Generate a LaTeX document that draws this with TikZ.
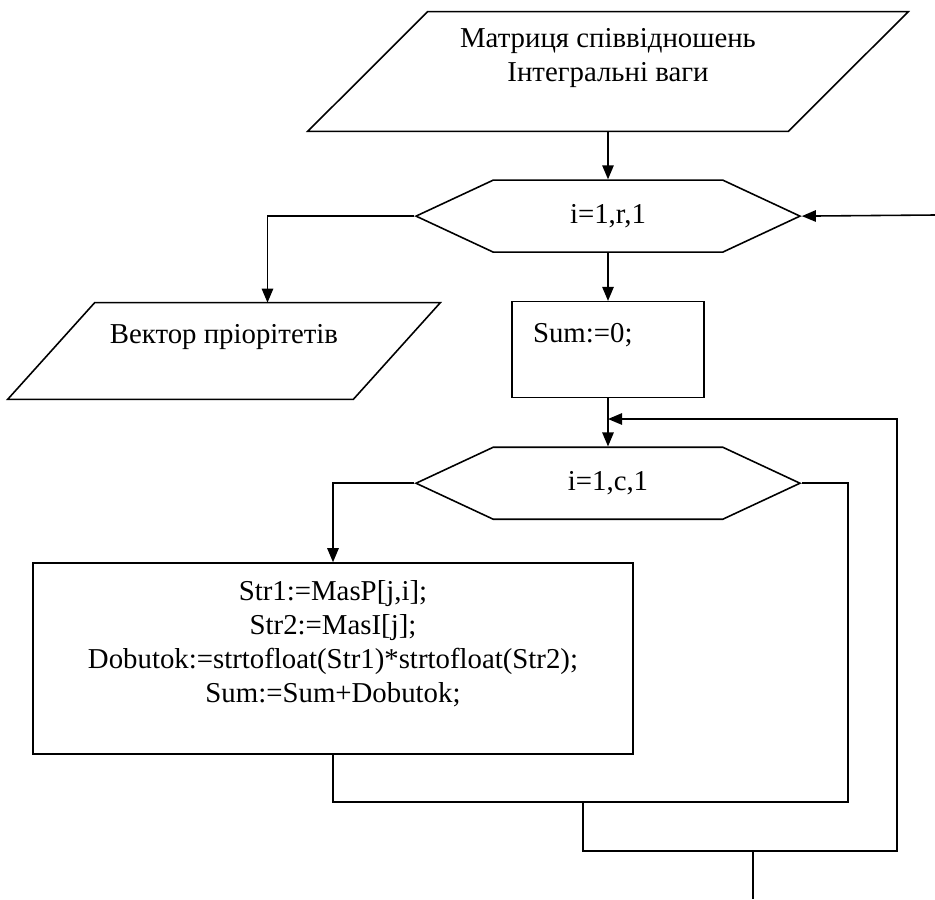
\documentclass[tikz,border=0pt]{standalone}
\usepackage{fontspec}
\setmainfont{Liberation Serif}
\usetikzlibrary{arrows.meta, positioning, shapes.symbols}

\begin{document}
\begin{tikzpicture}[
        x=0.02cm, y=-0.02cm,
        font=\fontsize{16.4}{19.3}\selectfont,
        io/.style={rectangle, inner sep=0pt, align=center},
        loopbox/.style={signal, signal to=west and east, signal pointer angle=50, draw, line width=0.9pt, minimum width=7.68cm, minimum height=1.44cm, inner sep=0pt},
        process/.style={rectangle, draw, line width=0.9pt, inner sep=0pt},
        arrow/.style={-{Triangle[length=8pt, width=6.5pt]}, line width=0.9pt},
        wire/.style={line width=0.9pt}
    ]
    \useasboundingbox (0,0) rectangle (935,899);

    % блоки
    \node[io, minimum width=9.6cm, minimum height=2.38cm] (in1) at (608,71.5) {Матриця співвідношень\\Інтегральні ваги\\\mbox{}};
    \node[loopbox, below=0.96cm of in1] (loop1) {i=1,r,1};
    \node[process, below=0.96cm of loop1, minimum height=1.92cm, text width=3cm, inner xsep=0.42cm, align=left] (sum0) {Sum:=0;\\\mbox{}};
    \node[loopbox, below=0.96cm of sum0] (loop2) {i=1,c,1};
    \node[io, minimum width=6.9cm, minimum height=1.92cm] (out1) at (224,351) {Вектор пріорітетів\\\mbox{}};
    \node[process, minimum width=12cm, minimum height=3.82cm, align=center] (body) at (333,658.5) {Str1:=MasP[j,i];\\Str2:=MasI[j];\\Dobutok:=strtofloat(Str1)*strtofloat(Str2);\\Sum:=Sum+Dobutok;\\\mbox{}};

    % паралелограми введення/виведення
    \draw[wire] ([xshift=-1.2cm]in1.south west) -- ([xshift=1.2cm]in1.north west) -- ([xshift=1.2cm]in1.north east) -- ([xshift=-1.2cm]in1.south east) -- cycle;
    \draw[wire] ([xshift=-0.87cm]out1.south west) -- ([xshift=0.87cm]out1.north west) -- ([xshift=0.87cm]out1.north east) -- ([xshift=-0.87cm]out1.south east) -- cycle;

    % точки з'єднань
    \coordinate (out1top) at ([xshift=0.87cm]out1.north);
    \coordinate (ret1) at (935,215);
    \coordinate (j1) at (848,802);
    \coordinate (j2) at (583,802);
    \coordinate (j3) at (897,851);
    \coordinate (m1) at (608,419);
    \coordinate (x1) at (753,851);
    \coordinate (x2) at (753,899);

    % з'єднання
    \draw[arrow] (in1.south) -- (loop1.north);
    \draw[arrow] (ret1) -- (loop1.east);
    \draw[arrow] (loop1.west) -| (out1top);
    \draw[arrow] (loop1.south) -- (sum0.north);
    \draw[arrow] (sum0.south) -- (loop2.north);
    \draw[arrow] (loop2.west) -| (body.north);
    \draw[wire] (body.south) |- (j1) |- (loop2.east);
    \draw[arrow] (j2) |- (j3) |- (m1);
    \draw[wire] (x1) -- (x2);

\end{tikzpicture}
\end{document}
